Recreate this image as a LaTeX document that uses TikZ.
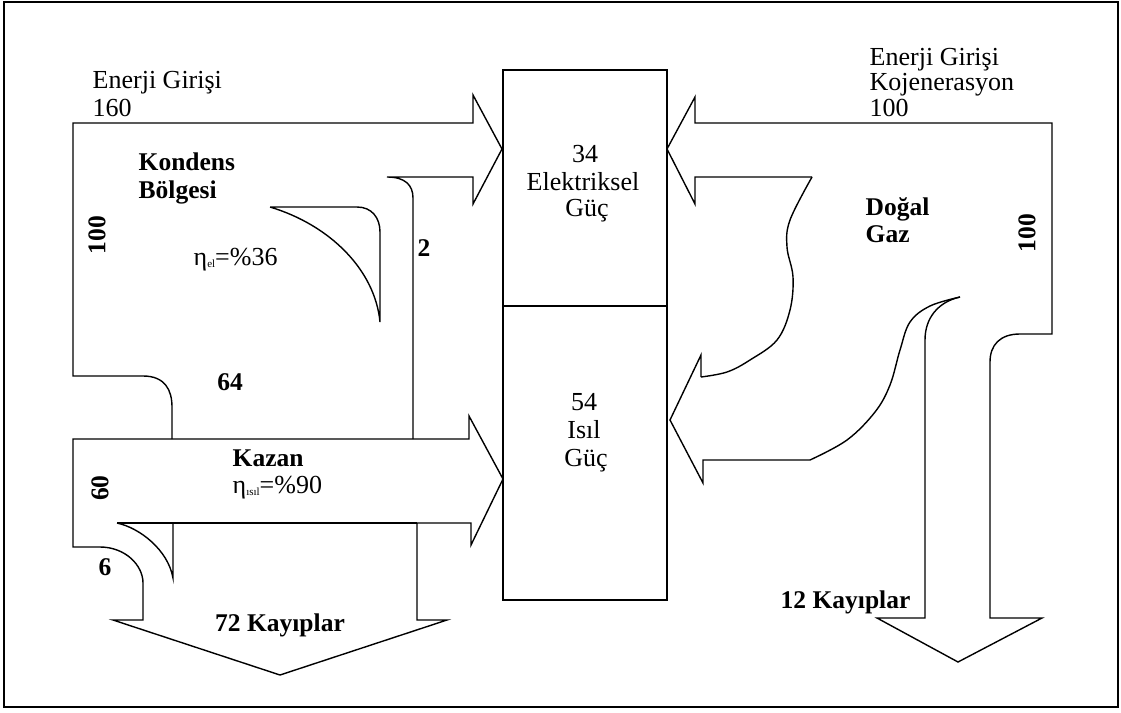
\documentclass[tikz,border=0pt]{standalone}
\usepackage{fontspec}
\setmainfont{Liberation Serif}
\begin{document}
\begin{tikzpicture}[x=1pt,y=-1pt,line width=1.4pt,line join=miter,
  lbl/.style={font=\fontsize{26}{28}\selectfont,inner sep=0pt},
  blbl/.style={font=\fontsize{25.5}{28}\selectfont\bfseries,inner sep=0pt}]
\useasboundingbox (0,0) rectangle (1121,712);
\draw[line width=1.6pt] (4,2) rectangle (1118,707);

% central box
\draw (503,70) rectangle (667,600);
\draw (503,306) -- (667,306);

% left flow (Kondens)
\draw (172,439) -- (172,407) .. controls (172,390) and (165,376) .. (143,376)
  -- (73,376) -- (73,123) -- (473,123) -- (473,95) -- (502,149) -- (473,204)
  -- (473,177) -- (387,177) .. controls (405,177) and (413,185) .. (413,198) -- (413,439);
\draw (270,207) -- (357,207) .. controls (372,207) and (380,218) .. (380,232)
  -- (380,322) .. controls (375,270) and (330,225) .. (270,207);

% Kazan arrow and losses
\draw (73,439) -- (469,439) -- (469,416) -- (503,479) -- (471,545) -- (471,523)
  -- (417,523) -- (417,620) -- (447,620) -- (280,675) -- (113,620) -- (143,620)
  -- (143,583) .. controls (143,565) and (125,547) .. (100,547) -- (73,547) -- cycle;
\draw (117,523) -- (417,523);
\draw (117,523) .. controls (140,528) and (168,550) .. (173,578) -- (173,523);

% right flow (Dogal gaz)
\draw (812,177) -- (695,177) -- (695,204) -- (667,149) -- (695,97) -- (695,123)
  -- (1052,123) -- (1052,334) -- (1020,334) .. controls (1000,334) and (990,345) .. (990,362)
  -- (990,618) -- (1042,618) -- (958,662) -- (877,618) -- (925,618) -- (925,340)
  .. controls (925,318) and (938,302) .. (960,297);
\draw plot[smooth,tension=0.6] coordinates {(812,177) (790,220) (787,247) (793,277) (790,310) (777,340) (750,360) (727,372) (701,377)};
\draw (701,377) -- (701,355) -- (670,420) -- (703,483) -- (703,460) -- (810,460);
\draw plot[smooth,tension=0.6] coordinates {(810,460) (847,440) (875,412) (890,385) (900,350) (910,322) (930,306) (960,297)};

% texts
\node[lbl,anchor=base west] (e1) at (92,88) {Enerji Girişi};
\node[lbl,anchor=base west] (v160) at (92,116) {160};
\node[lbl,anchor=base west] (e2) at (869,65) {Enerji Girişi};
\node[lbl,anchor=base west] (koj) at (869,90) {Kojenerasyon};
\node[lbl,anchor=base west] (v100t) at (869,116) {100};
\node[blbl,anchor=base west] (kon) at (138,170) {Kondens};
\node[blbl,anchor=base west] (bol) at (138,198) {Bölgesi};
\node[blbl,rotate=90] (v100l) at (97,235) {100};
\node[blbl,rotate=90] (v100r) at (1027,233) {100};
\node[lbl,anchor=west] (etael) at (193,260) {η\raisebox{-2pt}{\fontsize{11}{11}\selectfont el}=\%36};
\node[blbl] (v2) at (424,248) {2};
\node[lbl,anchor=base] (v34) at (585,162) {34};
\node[lbl,anchor=base] (elk) at (583,190) {Elektriksel};
\node[lbl,anchor=base] (g1) at (587,216) {Güç};
\node[lbl,anchor=base] (v54) at (584,410) {54};
\node[lbl,anchor=base] (isl) at (584,438) {Isıl};
\node[lbl,anchor=base] (g2) at (586,466) {Güç};
\node[blbl,anchor=base west] (dog) at (865,215) {Doğal};
\node[blbl,anchor=base west] (gaz) at (865,242) {Gaz};
\node[blbl] (v64) at (230,382) {64};
\node[blbl,anchor=west] (kaz) at (232,458) {Kazan};
\node[lbl,anchor=west] (etais) at (232,488) {η\raisebox{-2pt}{\fontsize{11}{11}\selectfont ısıl}=\%90};
\node[blbl,rotate=90] (v60) at (100,488) {60};
\node[blbl] (v6) at (105,567) {6};
\node[blbl] (k72) at (280,625) {72 Kayıplar};
\node[blbl,anchor=west] (k12) at (780,602) {12 Kayıplar};
\end{tikzpicture}
\end{document}
